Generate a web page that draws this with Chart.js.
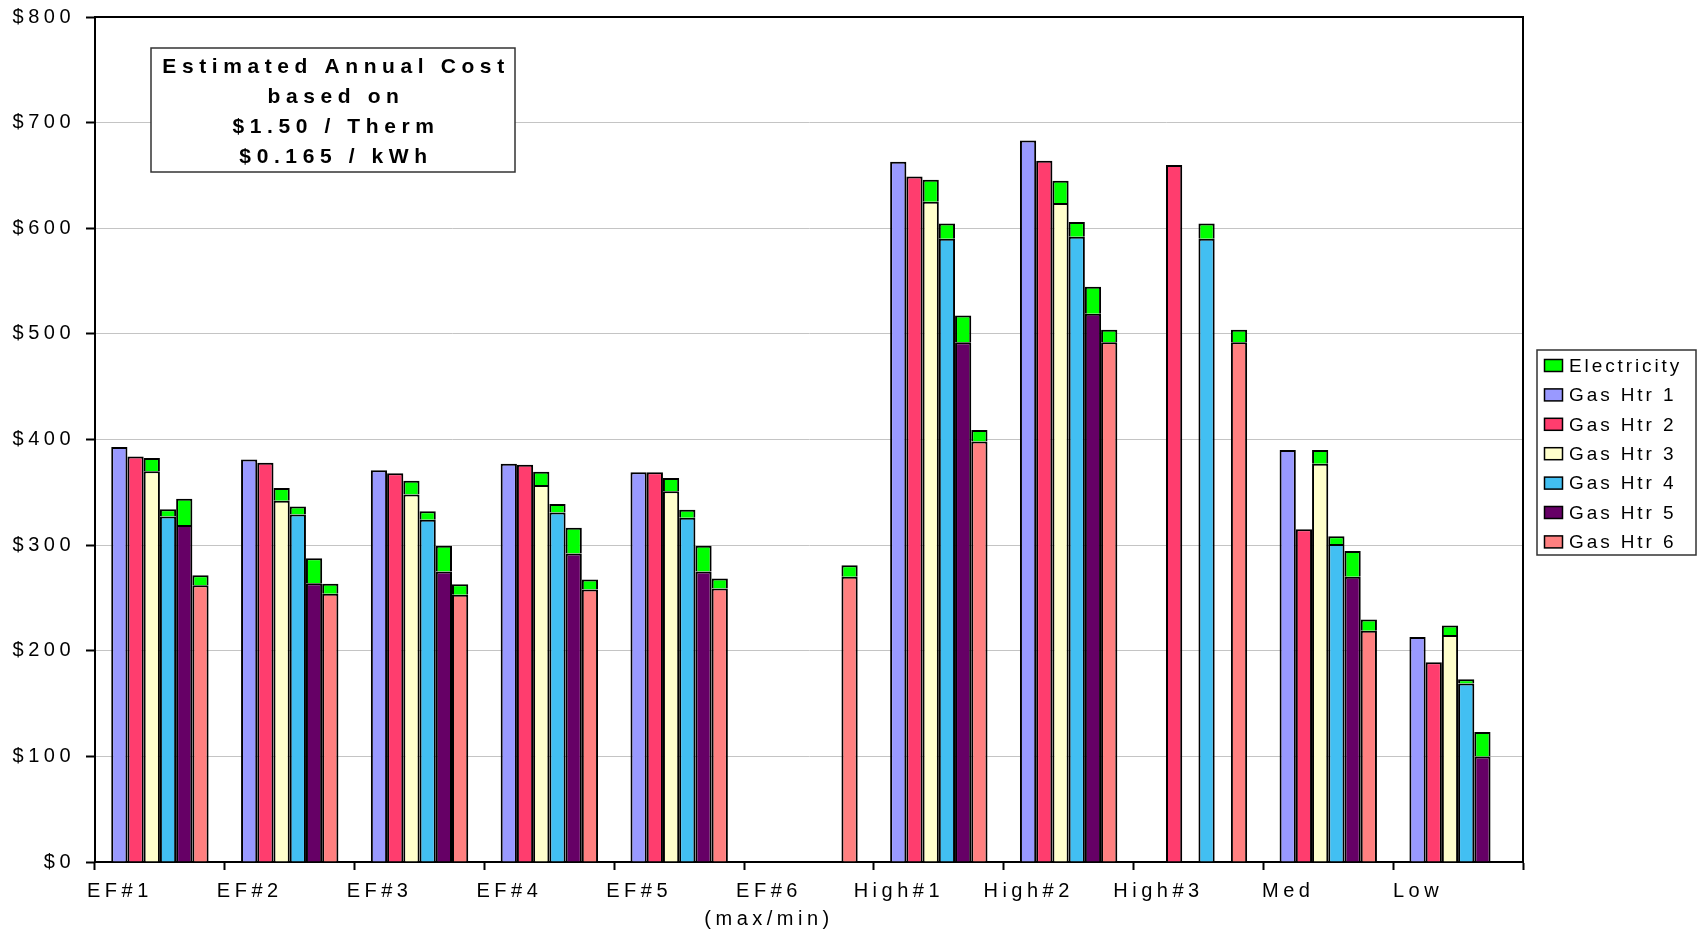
<!DOCTYPE html>
<html>
<head>
<meta charset="utf-8">
<script src="https://cdn.jsdelivr.net/npm/chart.js@4.4.1/dist/chart.umd.min.js"></script>
<style>
  html, body { margin: 0; padding: 0; background: #fff; }
  #wrap { width: 1699px; height: 931px; }
</style>
</head>
<body>
<div id="wrap"><canvas id="costChart" width="1699" height="931"></canvas></div>
<script>
// categories along the x axis
const categories = ['EF#1', 'EF#2', 'EF#3', 'EF#4', 'EF#5', ['EF#6', '(max/min)'], 'High#1', 'High#2', 'High#3', 'Med', 'Low'];

// gas cost per heater ($/yr)
const gasHtr1 = [393, 381, 371, 377, 369, null, 663, 683, null, 390, 213];
const gasHtr2 = [384, 378, 368, 376, 369, null, 649, 664, 660, 315, 189];
const gasHtr3 = [370, 342, 348, 357, 351, null, 625, 624, null, 377, 215];
const gasHtr4 = [327, 329, 324, 331, 326, null, 590, 592, 590, 301, 169];
const gasHtr5 = [319, 264, 275, 292, 275, null, 492, 519, null, 270, 100];
const gasHtr6 = [262, 254, 253, 258, 259, 270, 398, 492, 492, 219, null];

// electricity cost stacked on top of each heater ($/yr)
const elecHtr3 = [12.5, 12, 13, 12.5, 12.5, null, 21, 21, null, 13, 9];
const elecHtr4 = [7, 7.5, 8, 8, 7.5, null, 14.5, 14, 14.5, 7.5, 4];
const elecHtr5 = [25, 23.5, 24.5, 24.5, 24.5, null, 25.5, 25.5, null, 24.5, 23];
const elecHtr6 = [9.5, 9.5, 10, 9.5, 9.5, 11, 11, 12, 12, 10.5, null];

const heaterLabels = ['Gas Htr 1', 'Gas Htr 2', 'Gas Htr 3', 'Gas Htr 4', 'Gas Htr 5', 'Gas Htr 6'];
const heaterColors = ['#9999FF', '#FF3D6E', '#FFFFCC', '#42BFF2', '#660066', '#FF8080'];
const elecColor = '#00FF00';

const yMin = 0, yMax = 800, yStep = 100;
const noteLines = ['Estimated Annual Cost', 'based on', '$1.50 / Therm', '$0.165 / kWh'];

const FONT = "'Liberation Sans', Arial, sans-serif";

const gasSeries = [gasHtr1, gasHtr2, gasHtr3, gasHtr4, gasHtr5, gasHtr6];
const elecSeries = [null, null, elecHtr3, elecHtr4, elecHtr5, elecHtr6];

const datasets = [];
gasSeries.forEach((data, i) => {
    datasets.push({
        label: heaterLabels[i], data: data, stack: 'h' + (i + 1),
        backgroundColor: heaterColors[i], borderColor: '#000', borderWidth: 2
    });
});
elecSeries.forEach((data, i) => {
    if (!data) return;
    datasets.push({
        label: 'Electricity', data: data, stack: 'h' + (i + 1),
        backgroundColor: elecColor, borderColor: '#000', borderWidth: 2
    });
});

// letter spacing like the original spreadsheet text
const spacing = {
    id: 'spacing',
    beforeUpdate(chart) { chart.ctx.letterSpacing = '4.5px'; },
    beforeDraw(chart) {
        const ctx = chart.ctx;
        ctx.letterSpacing = '4.5px';
        ctx.save();
        ctx.fillStyle = '#fff';
        ctx.fillRect(0, 0, chart.width, chart.height);
        ctx.restore();
    }
};

// black frame round the plot, note box, legend box
const decorations = {
    id: 'decorations',
    afterDraw(chart) {
        const ctx = chart.ctx;
        const a = chart.chartArea;
        ctx.save();
        ctx.strokeStyle = '#000';
        ctx.lineWidth = 2;
        ctx.beginPath();
        ctx.moveTo(a.left, a.top);
        ctx.lineTo(a.right, a.top);
        ctx.lineTo(a.right, a.bottom);
        ctx.stroke();

        // note box
        const bx = a.left + 56, by = a.top + 31, bw = 364, bh = 124;
        ctx.fillStyle = '#fff';
        ctx.fillRect(bx, by, bw, bh);
        ctx.strokeStyle = '#333';
        ctx.lineWidth = 1.5;
        ctx.strokeRect(bx, by, bw, bh);
        ctx.fillStyle = '#000';
        ctx.font = 'bold 21px ' + FONT;
        ctx.letterSpacing = '5.6px';
        ctx.textAlign = 'center';
        ctx.textBaseline = 'alphabetic';
        noteLines.forEach((t, i) => {
            ctx.fillText(t, bx + bw / 2 + 3, by + 25 + i * 30);
        });

        // legend
        const items = [];
        chart.data.datasets.forEach(ds => {
            if (!items.find(it => it.label === ds.label)) items.push({ label: ds.label, color: ds.backgroundColor });
        });
        items.sort((p, q) => (q.label === 'Electricity') - (p.label === 'Electricity'));
        const lx = a.right + 14, ly = 350, lw = 159, lh = 205;
        ctx.fillStyle = '#fff';
        ctx.fillRect(lx, ly, lw, lh);
        ctx.strokeStyle = '#333';
        ctx.lineWidth = 1.5;
        ctx.strokeRect(lx, ly, lw, lh);
        ctx.font = '19px ' + FONT;
        ctx.letterSpacing = '2.9px';
        ctx.textAlign = 'left';
        ctx.textBaseline = 'middle';
        items.forEach((it, i) => {
            const cy = ly + 15.5 + i * 29.4;
            ctx.fillStyle = it.color;
            ctx.fillRect(lx + 7.5, cy - 6, 18, 12);
            ctx.strokeStyle = '#000';
            ctx.lineWidth = 1.5;
            ctx.strokeRect(lx + 7.5, cy - 6, 18, 12);
            ctx.fillStyle = '#000';
            ctx.fillText(it.label, lx + 32, cy + 1);
        });
        ctx.restore();
    }
};

new Chart(document.getElementById('costChart'), {
    type: 'bar',
    data: { labels: categories, datasets: datasets },
    options: {
        responsive: false,
        animation: false,
        layout: { padding: { left: 0, top: 17, right: 176, bottom: 0 } },
        datasets: { bar: { categoryPercentage: 0.75, barPercentage: 1 } },
        plugins: { legend: { display: false }, tooltip: { enabled: false } },
        scales: {
            x: {
                stacked: true,
                offset: true,
                grid: { offset: true, drawOnChartArea: false, tickLength: 8, tickColor: '#000', tickWidth: 2 },
                border: { color: '#000', width: 2 },
                ticks: {
                    color: '#000', font: { family: FONT, size: 20, lineHeight: 1.4 },
                    labelOffset: -40, padding: 7, autoSkip: false, maxRotation: 0
                },
                afterFit: s => { s.height = 69; s.paddingLeft = 0; s.paddingRight = 0; }
            },
            y: {
                stacked: true,
                min: yMin, max: yMax,
                grid: { color: '#c4c4c4', lineWidth: 1, tickLength: 9, tickColor: '#000', tickWidth: 2 },
                border: { color: '#000', width: 2 },
                ticks: {
                    stepSize: yStep, color: '#000', padding: 11,
                    font: { family: FONT, size: 20 },
                    callback: v => '$' + v
                },
                afterFit: s => { s.width = 95; s.paddingTop = 0; s.paddingBottom = 0; }
            }
        }
    },
    plugins: [spacing, decorations]
});
</script>
</body>
</html>
